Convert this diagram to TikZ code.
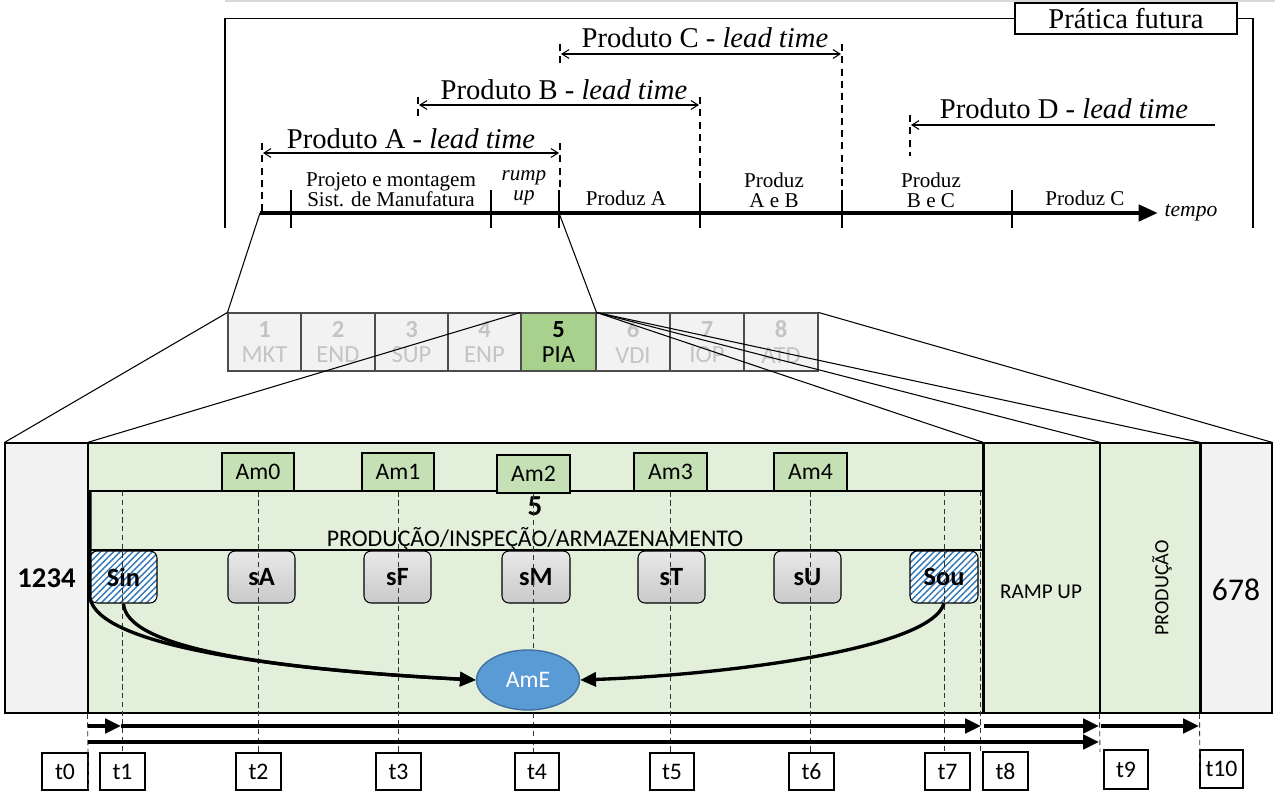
\documentclass[tikz,border=0pt]{standalone}
\usepackage{fontspec}
\setmainfont{Carlito}
\newfontfamily\tnr{Liberation Serif}
\usetikzlibrary{arrows.meta,patterns.meta,shapes.geometric}
\definecolor{gz}{HTML}{E2EFDA}
\definecolor{gam}{HTML}{C5E0B4}
\definecolor{gpia}{HTML}{A9D18E}
\definecolor{lg}{HTML}{F2F2F2}
\definecolor{lgt}{HTML}{C4C4C4}
\definecolor{ame}{HTML}{5B9BD5}
\definecolor{amed}{HTML}{41719C}
\definecolor{hatch}{HTML}{2E75B6}
\newcommand\fPT{\tnr\fontsize{16.3}{19}\selectfont}
\newcommand\fPH{\tnr\fontsize{12}{11.2}\selectfont}
\newcommand\fAm{\fontsize{13.5}{16}\selectfont}
\newcommand\fMB{\fontsize{14}{14.5}\selectfont}
\newcommand\fSB{\bfseries\fontsize{15}{17}\selectfont}
\begin{document}
\begin{tikzpicture}[x=0.02cm,y=-0.02cm,
  >={Straight Barb[length=4pt,width=5pt]},
  tdash/.style={dash pattern=on 4pt off 3pt, line width=0.6pt},
  bdash/.style={dash pattern=on 3pt off 2pt, line width=0.5pt, black!80},
  dimline/.style={line width=0.6pt},
  thickarrow/.style={line width=2.8pt, -{Triangle[length=9pt,width=8pt]}},
  curvearrow/.style={line width=1.9pt, -{Triangle[length=9pt,width=8pt]}},
  rect/.style 2 args={rectangle, minimum width=#1*0.02cm, minimum height=#2*0.02cm, inner sep=0pt, draw, line width=0.6pt},
  gbx/.style={fill=lg, draw=black!70, text=lgt, font=\fMB, align=center},
  sbx/.style={rounded corners=4pt, top color=gray!18, bottom color=gray!42, font=\fSB},
  hbx/.style={rounded corners=4pt, preaction={fill=white}, pattern={Lines[angle=45,distance=2.6pt,line width=0.8pt]}, pattern color=hatch, font=\fSB},
  tbx/.style={fill=white, font=\fAm},
  ambx/.style={fill=gam, font=\fAm}]
\useasboundingbox (0,0) rectangle (1275,801);
\fill[white] (0,0) rectangle (1275,801);

% ---------- top part ----------
\draw[gray!30, line width=1.2pt] (225,1) -- (1275,1);
\node[rect={222}{31}, fill=white, line width=0.8pt, font=\fPT] (pf) at (1126,18.5) {Prática futura};
\draw[line width=0.9pt] (225,228) |- (pf.west);
\draw[line width=0.9pt] (pf.east) -| (1253,228);

\coordinate (tl0) at (260,213);
\coordinate (tl1) at (1158,213);
\draw[line width=2.8pt, -{Triangle[length=11pt,width=9pt]}] (tl0) -- (tl1);
\foreach \x in {291,491,559,700,842,1012} \draw[line width=0.7pt] (\x,190) -- (\x,228);

\draw[tdash] (262,143) -- (262,213);
\draw[tdash] (560,143) -- (560,190);
\draw[tdash] (560,44) -- (560,68);
\draw[tdash] (418,97) -- (418,120);
\draw[tdash] (700,97) -- (700,190);
\draw[tdash] (842,44) -- (842,190);
\draw[tdash] (910,115) -- (910,156);

\coordinate (pa1) at (263,153); \coordinate (pa2) at (559,153);
\coordinate (pb1) at (419,105); \coordinate (pb2) at (699,105);
\coordinate (pc1) at (561,54);  \coordinate (pc2) at (841,54);
\coordinate (pd1) at (1215,125); \coordinate (pd2) at (911,125);
\draw[dimline, <->] (pa1) -- (pa2);
\draw[dimline, <->] (pb1) -- (pb2);
\draw[dimline, <->] (pc1) -- (pc2);
\draw[dimline, ->] (pd1) -- (pd2);

\node[font=\fPT] (ta) at (411,139) {Produto A - \textit{lead time}};
\node[font=\fPT] (tb) at (564,90) {Produto B - \textit{lead time}};
\node[font=\fPT] (tc) at (705,38) {Produto C - \textit{lead time}};
\node[font=\fPT] (td) at (1064,109) {Produto D - \textit{lead time}};

\node[font=\fPH, align=center] (ph1) at (391,190) {Projeto e montagem\\Sist. de Manufatura};
\node[font=\fPH\itshape, align=center] (ph2) at (524,188) {rump\\up};
\node[font=\fPH] (ph3) at (626,198) {Produz A};
\node[font=\fPH, align=center] (ph4) at (774,190) {Produz\\A e B};
\node[font=\fPH, align=center] (ph5) at (931,190) {Produz\\B e C};
\node[font=\fPH] (ph6) at (1085,198) {Produz C};
\node[font=\tnr\itshape\fontsize{12.3}{14}\selectfont] (tempo) at (1191,213) {tempo};

% ---------- middle boxes ----------
\foreach \i/\cx/\w/\code in {1/264.5/73/MKT, 2/338/74/END, 3/411.5/73/SUP, 4/484.5/73/ENP, 6/633/74/VDI, 7/707/74/IOP, 8/781/74/ATD}
  \node[rect={\w}{58}, gbx] (b\i) at (\cx,342) {\textbf{\i}\\\code};
\node[rect={75}{58}, fill=gpia, draw=black!70, font=\fMB, align=center] (b5) at (558.5,342) {\textbf{5}\\PIA};

\coordinate (tk) at (559,213);
\draw[line width=0.6pt] (tl0) -- (b1.north west);
\draw[line width=0.6pt] (tk) -- (b5.north east);

% ---------- bottom part ----------
\node[rect={83}{270}, fill=lg, font=\bfseries\fontsize{16.3}{18}\selectfont] (lbox) at (46.5,578) {1234};
\node[rect={895}{270}, fill=gz] (green) at (535.5,578) {};
\node[rect={117}{270}, fill=gz] (ramp) at (1041.5,578) {};
\node[rect={100}{270}, fill=gz] (prod) at (1150,578) {};
\node[rect={72}{270}, fill=lg] (rbox) at (1236,578) {};
\draw[line width=1.1pt] (green.north east) -- (green.south east);
\draw[line width=1.1pt] (prod.north east) -- (prod.south east);
\draw[line width=1.1pt] (green.north west) -- (green.south west);

\node[font=\fontsize{18}{20}\selectfont] (l678) at (1236,590) {678};
\node[font=\fontsize{12}{14}\selectfont] (lramp) at (1041,592) {RAMP UP};
\node[font=\fontsize{11.5}{14}\selectfont, rotate=90] (lprod) at (1162,588) {PRODUÇÃO};

\draw[line width=0.6pt] (b1.north west) -- (lbox.north west);
\draw[line width=0.6pt] (b5.north west) -- (green.north west);
\draw[line width=0.6pt] (b5.north east) -- (green.north east);
\draw[line width=0.6pt] (b5.north east) -- (ramp.north east);
\draw[line width=0.6pt] (b5.north east) -- (prod.north east);
\draw[line width=0.6pt] (b8.north east) -- (rbox.north east);

\coordinate (h1a) at (88,491); \coordinate (h1b) at (983,491);
\coordinate (h2a) at (88,550); \coordinate (h2b) at (983,550);
\draw[line width=0.6pt] (h1a) -- (h1b);
\draw[line width=0.6pt] (h2a) -- (h2b);

\node[rect={72}{38}, ambx] (am0) at (258,472) {Am0};
\node[rect={72}{38}, ambx] (am1) at (398,472) {Am1};
\node[rect={73}{38}, ambx] (am2) at (533.5,474) {Am2};
\node[rect={73}{38}, ambx] (am3) at (670.5,472) {Am3};
\node[rect={73}{38}, ambx] (am4) at (810.5,472) {Am4};

\node[font=\bfseries\fontsize{16.5}{18}\selectfont] (five) at (535,506) {5};
\node[font=\fontsize{13.6}{16}\selectfont] (pia) at (535,539) {PRODUÇÃO/INSPEÇÃO/ARMAZENAMENTO};

\node[rect={67}{52}, hbx] (sin) at (123.5,577) {Sin};
\node[rect={67}{52}, sbx] (sA) at (261.5,577) {sA};
\node[rect={67}{52}, sbx] (sF) at (397.5,577) {sF};
\node[rect={68}{52}, sbx] (sM) at (536,577) {sM};
\node[rect={67}{52}, sbx] (sT) at (671.5,577) {sT};
\node[rect={67}{52}, sbx] (sU) at (807.5,577) {sU};
\node[rect={68}{52}, hbx] (sou) at (944,577) {Sou};

% t boxes
\node[rect={46}{37}, tbx] (t0) at (65,771.5) {t0};
\node[rect={45}{37}, tbx] (t1) at (122.5,771.5) {t1};
\node[rect={45}{37}, tbx] (t2) at (258.5,771.5) {t2};
\node[rect={45}{37}, tbx] (t3) at (398.5,771.5) {t3};
\node[rect={44}{37}, tbx] (t4) at (537,771.5) {t4};
\node[rect={44}{37}, tbx] (t5) at (672,771.5) {t5};
\node[rect={45}{37}, tbx] (t6) at (811.5,771.5) {t6};
\node[rect={45}{37}, tbx] (t7) at (947.5,771.5) {t7};
\node[rect={45}{38}, tbx] (t8) at (1005.5,771) {t8};
\node[rect={44}{39}, tbx] (t9) at (1126,769.5) {t9};
\node[rect={43}{38}, tbx] (t10) at (1221.5,769) {t10};

% dashed time lines
\coordinate (d1) at (122,491);
\coordinate (d8a) at (980,491); \coordinate (d8b) at (980,752);
\coordinate (d9) at (1100,752);
\coordinate (d10) at (1200,770);
\draw[bdash] (green.south west) -- (t0.south east);
\draw[bdash] (d1) -- (d1 |- t1.north);
\draw[bdash] (am0.south) -- (am0.south |- t2.north);
\draw[bdash] (am1.south) -- (am1.south |- t3.north);
\draw[bdash] (am2.south) -- (am2.south |- t4.north);
\draw[bdash] (am3.south) -- (am3.south |- t5.north);
\draw[bdash] (am4.south) -- (am4.south |- t6.north);
\draw[bdash] (sou.south |- h1b) -- (sou.south |- t7.north);
\draw[bdash] (d8a) -- (d8b);
\draw[bdash] (prod.south west) -- (d9);
\draw[bdash] (rbox.south west) -- (d10);

% AmE and curves
\node[ellipse, draw=amed, fill=ame, text=white, minimum width=2.06cm, minimum height=1.2cm, font=\fAm, line width=0.8pt] (ame) at (528,680) {AmE};
\coordinate (cs0) at (90,492); \coordinate (cs1) at (90,598);
\draw[curvearrow] (cs0) -- (cs1) .. controls (98,642) and (250,668) .. (ame.west);
\draw[curvearrow] (sin.south) .. controls (126,645) and (250,668) .. (ame.west);
\draw[curvearrow] (sou.south) .. controls (930,650) and (720,675) .. (ame.east);

% bottom arrows
\coordinate (r0) at (88,726); \coordinate (r1) at (121,726);
\coordinate (r2) at (981,726); \coordinate (r3) at (984,726);
\coordinate (r4) at (1099,726); \coordinate (r5) at (1101,726);
\coordinate (r6) at (1199,726);
\coordinate (q0) at (88,742); \coordinate (q1) at (1099,742);
\draw[thickarrow] (r0) -- (r1);
\draw[thickarrow] (r1) -- (r2);
\draw[thickarrow] (r3) -- (r4);
\draw[thickarrow, line width=2.3pt] (r5) -- (r6);
\draw[thickarrow] (q0) -- (q1);
\end{tikzpicture}
\end{document}
